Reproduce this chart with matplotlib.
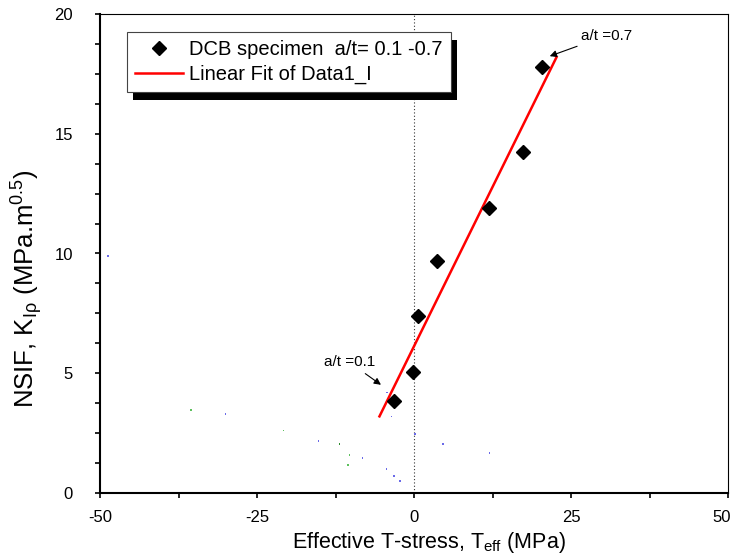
import matplotlib
matplotlib.use("Agg")
import matplotlib.pyplot as plt
import matplotlib.patches as mpatches
import matplotlib.transforms as mtransforms
import numpy as np

plt.rcParams["font.family"] = ["Liberation Sans", "DejaVu Sans"]
plt.rcParams["mathtext.fontset"] = "custom"
plt.rcParams["mathtext.rm"] = "Liberation Sans"
plt.rcParams["mathtext.it"] = "Liberation Sans:italic"
plt.rcParams["axes.unicode_minus"] = False

# DCB specimen data (a/t = 0.1 .. 0.7)
t_eff = [-3.2, -0.2, 0.6, 3.6, 11.9, 17.3, 20.4]
nsif = [3.85, 5.05, 7.4, 9.7, 11.9, 14.25, 17.8]

# linear fit end points
fit_x = [-5.5, 22.7]
fit_y = [3.2, 18.2]

# faint stray points in the original figure
stray_x = [-48.7, -35.5, -30.0, -20.8, -15.2, -11.9, -10.3, -10.5, -8.2,
           -4.4, -3.2, -2.2, -3.6, -4.3, 0.2, 4.6, 12.0]
stray_y = [9.9, 3.46, 3.3, 2.6, 2.17, 2.04, 1.58, 1.17, 1.46,
           1.0, 0.71, 0.5, 3.2, 4.2, 2.46, 2.04, 1.67]
stray_c = ["#6a6ae8", "#5cc05c", "#6a6ae8", "#5cc05c", "#6a6ae8", "#2e8b2e",
           "#5cc05c", "#5cc05c", "#6a6ae8", "#6a6ae8", "#6a6ae8", "#6a6ae8",
           "#6a6ae8", "#6a6ae8", "#6a6ae8", "#6a6ae8", "#6a6ae8"]

fig = plt.figure(figsize=(7.35, 5.59), dpi=100, facecolor="white")
ax = fig.add_axes([100 / 735, 1 - 493 / 559, 628 / 735, 479 / 559])

ax.axvline(0, color="#333333", ls=(0, (1, 2)), lw=0.8, zorder=1)
ax.scatter(stray_x, stray_y, s=1.2, c=stray_c, marker="s", lw=0, zorder=1)

ax.plot(fit_x, fit_y, color="red", lw=1.8, zorder=2,
        label="Linear Fit of Data1_I")
ax.plot(t_eff, nsif, ls="none", marker="D", ms=6.8, color="black", zorder=3,
        label="DCB specimen  a/t= 0.1 -0.7")

ax.set_xlim(-50, 50)
ax.set_ylim(0, 20)
ax.set_xticks([-50, -25, 0, 25, 50])
ax.set_xticks([-37.5, -12.5, 12.5, 37.5], minor=True)
ax.set_yticks([0, 5, 10, 15, 20])
ax.set_yticks(np.arange(0, 20.01, 1.25), minor=True)
ax.tick_params(which="both", direction="out", length=3.5, width=1.2,
               labelsize=12, top=False, right=False)
ax.tick_params(axis="x", pad=9)
ax.tick_params(axis="y", pad=16)

for side in ["left", "bottom"]:
    ax.spines[side].set_linewidth(1.5)
for side in ["top", "right"]:
    ax.spines[side].set_linewidth(0.8)

ax.set_xlabel(r"Effective T-stress, T$_{\rm eff}$ (MPa)", fontsize=15.5)
ax.set_ylabel(r"NSIF, K$_{\rm I\rho}$ (MPa.m$^{0.5}$)", fontsize=18.5)
ax.xaxis.set_label_coords(0.524, -0.077)
ax.yaxis.set_label_coords(-0.088, 0.426)

arrow = dict(arrowstyle="-|>", color="black", lw=0.8, mutation_scale=10)
ax.annotate("a/t =0.1", xy=(-4.9, 4.45), xytext=(-10.3, 5.46),
            ha="center", va="center", fontsize=11, arrowprops=arrow)
ax.annotate("a/t =0.7", xy=(21.2, 18.2), xytext=(30.7, 19.1),
            ha="center", va="center", fontsize=11, arrowprops=arrow)

handles, labels = ax.get_legend_handles_labels()
leg = ax.legend(handles[::-1], labels[::-1], loc="upper left",
                bbox_to_anchor=(27 / 628, 461 / 479), borderaxespad=0,
                fontsize=14.5, fancybox=False, framealpha=1, edgecolor="#444444",
                handlelength=2.4, handletextpad=0.3, labelspacing=0.3,
                borderpad=0.4, numpoints=1)
leg.get_frame().set_linewidth(0.8)
leg.set_zorder(6)

# keep the last x tick label inside the figure
fig.canvas.draw()
last = ax.get_xticklabels()[-1]
last.set_transform(last.get_transform()
                   + mtransforms.ScaledTranslation(-6 / 100, 0, fig.dpi_scale_trans))

# black drop shadow under the legend box
bb = leg.get_window_extent()
inv = ax.transAxes.inverted()
(x0, y0), (x1, y1) = inv.transform([[bb.x0 + 6, bb.y0 - 8], [bb.x1 + 6, bb.y1 - 8]])
ax.add_patch(mpatches.Rectangle((x0, y0), x1 - x0, y1 - y0, transform=ax.transAxes,
                                facecolor="black", edgecolor="none", zorder=5.5))

fig.savefig("out.png", dpi=100, facecolor="white")
